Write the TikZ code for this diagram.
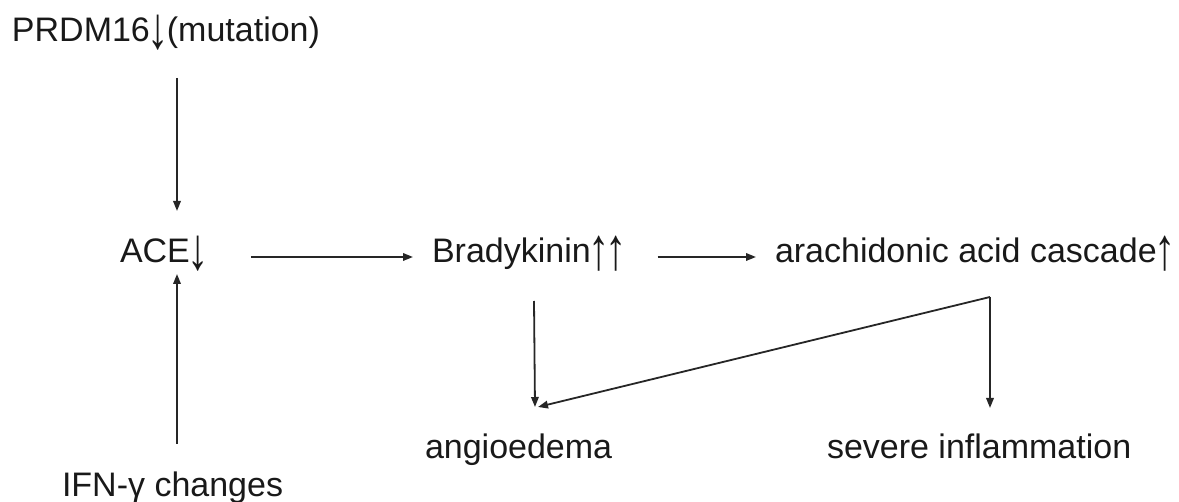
\documentclass[tikz,border=0pt]{standalone}
\usepackage{graphicx}
\usepackage{fontspec}
\setmainfont{Liberation Sans}
\usetikzlibrary{arrows.meta}

% tall up/down regulation marks, half an em wide
\newcommand{\dnmark}{\makebox[0.5em]{\raisebox{-7pt}{\scalebox{1.25}[1.75]{↓}}}}
\newcommand{\upmark}{\makebox[0.5em]{\raisebox{-7pt}{\scalebox{1.25}[1.75]{↑}}}}

\tikzset{
  label/.style={anchor=base west, inner sep=0pt, outer sep=0pt,
                text=black!90, font=\fontsize{34}{40}\selectfont},
  arr/.style={draw=black!85, line width=1.8pt,
              -{Triangle[length=10pt,width=7.5pt]}}
}

\begin{document}
\begin{tikzpicture}[x=1pt, y=-1pt]
  \useasboundingbox (0,0) rectangle (1179,502);

  % labels
  \node[label] (prdm)   at (12,42)   {PRDM16\dnmark(mutation)};
  \node[label] (ace)    at (120,263) {ACE\dnmark};
  \node[label] (brad)   at (432,263) {Bradykinin\upmark\upmark};
  \node[label] (arach)  at (775,263) {arachidonic acid cascade\upmark};
  \node[label] (angio)  at (425,459) {angioedema};
  \node[label] (severe) at (827,459) {severe inflammation};
  \node[label] (ifn)    at (62,497)  {IFN-γ changes};

  % vertical links into ACE
  \draw[arr] ([shift={(165,36)}]prdm.base west) -- ([shift={(57,-52)}]ace.base west);
  \draw[arr] ([shift={(115,-53)}]ifn.base west) -- ([shift={(57,11)}]ace.base west);

  % main chain
  \draw[arr] ([shift={(44,-6)}]ace.base east) -- ([shift={(-19,-6)}]brad.base west);
  \draw[arr] ([shift={(33,-6)}]brad.base east) -- ([shift={(-19,-6)}]arach.base west);

  % outcomes
  \draw[arr] ([shift={(102,38)}]brad.base west) -- ([shift={(110,-52)}]angio.base west);
  \coordinate (split) at ([shift={(215,34)}]arach.base west);
  \draw[arr] (split) -- ([shift={(113,-52)}]angio.base west);
  \draw[arr] (split) -- ([shift={(163,-51)}]severe.base west);
\end{tikzpicture}
\end{document}
